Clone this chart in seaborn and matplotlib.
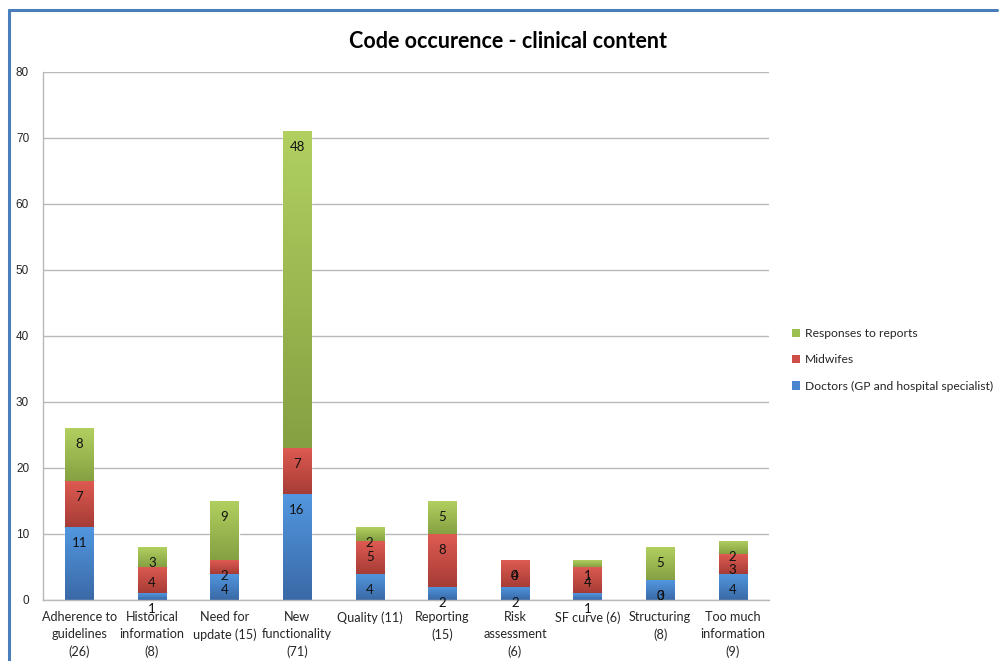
import numpy as np
import pandas as pd
import matplotlib
matplotlib.use("Agg")
import matplotlib.pyplot as plt
from matplotlib.colors import LinearSegmentedColormap
from matplotlib.lines import Line2D
from matplotlib.patches import Patch
import seaborn as sns

# Categories (with their total counts) and the three stacked series
categories = [
    "Adherence to\nguidelines\n(26)",
    "Historical\ninformation\n(8)",
    "Need for\nupdate (15)",
    "New\nfunctionality\n(71)",
    "Quality (11)",
    "Reporting\n(15)",
    "Risk\nassessment\n(6)",
    "SF curve (6)",
    "Structuring\n(8)",
    "Too much\ninformation\n(9)",
]
doctors = [11, 1, 4, 16, 4, 2, 2, 1, 3, 4]
midwifes = [7, 4, 2, 7, 5, 8, 4, 4, 0, 3]
responses = [8, 3, 9, 48, 2, 5, 0, 1, 5, 2]
series_names = ["Doctors (GP and hospital specialist)", "Midwifes", "Responses to reports"]
y_ticks = [0, 10, 20, 30, 40, 50, 60, 70, 80]
title = "Code occurence - clinical content"

# (flat colour, top of gradient, bottom of gradient) per series
palette = [
    ("#4a86cf", "#5297e0", "#3a69a6"),
    ("#cf4d47", "#de5b52", "#a63c36"),
    ("#9cc050", "#b1d060", "#85a042"),
]

sns.set_style("white")
plt.rcParams["font.family"] = ["Lato", "DejaVu Sans"]

fig = plt.figure(figsize=(9.99, 6.61), dpi=100)
ax = fig.add_axes([43 / 999, 1 - 600 / 661, 726 / 999, 528 / 661])

series_values = [doctors, midwifes, responses]
bottoms = np.zeros(len(categories))
bar_width = 0.39


def shade(axis, patch, top_c, bot_c):
    x0, y0 = patch.get_x(), patch.get_y()
    w, h = patch.get_width(), patch.get_height()
    if h <= 0:
        return
    cmap = LinearSegmentedColormap.from_list("seg", [bot_c, top_c])
    grad = np.linspace(0, 1, 256).reshape(-1, 1)
    im = axis.imshow(grad, cmap=cmap, origin="lower",
                     extent=[x0, x0 + w, y0, y0 + h], aspect="auto",
                     interpolation="bicubic", zorder=patch.get_zorder() + 0.1)
    im.set_clip_path(patch)


for vals, name, (flat, top_c, bot_c) in zip(series_values, series_names, palette):
    df = pd.DataFrame({"category": categories, "count": vals})
    sns.barplot(data=df, x="category", y="count", order=categories, color=flat,
                saturation=1, width=bar_width, ax=ax, zorder=2)
    container = ax.containers[-1]
    for patch, b, v in zip(container.patches, bottoms, vals):
        patch.set_y(b)
        shade(ax, patch, top_c, bot_c)
        # value label sits just inside the top of its segment
        ax.annotate(str(v), xy=(patch.get_x() + patch.get_width() / 2, b + v),
                    xytext=(0, -16), textcoords="offset pixels",
                    ha="center", va="center", fontsize=9.5, color="#111111",
                    zorder=5)
    bottoms = bottoms + np.array(vals)

ax.set_xlim(-0.5, len(categories) - 0.5)
ax.set_ylim(0, 80)
ax.set_yticks(y_ticks)
ax.set_xlabel("")
ax.set_ylabel("")
ax.set_axisbelow(True)
ax.yaxis.grid(True, color="#b8b8b8", lw=1)
ax.xaxis.grid(False)

for side in ("top", "right"):
    ax.spines[side].set_visible(False)
for side in ("left", "bottom"):
    ax.spines[side].set_color("#b8b8b8")
    ax.spines[side].set_linewidth(1)

ax.set_xticks(range(len(categories)))
ax.set_xticklabels(categories, fontsize=9.1, linespacing=1.5, va="top")
ax.set_xticks(np.arange(-0.5, len(categories)), minor=True)
ax.tick_params(axis="x", which="major", length=0, pad=8)
ax.tick_params(axis="x", which="minor", length=5, color="#b8b8b8", width=1, direction="out")
ax.tick_params(axis="y", length=4, color="#b8b8b8", width=1, direction="out", pad=6)
for lab in ax.get_yticklabels():
    lab.set_fontfamily(["Liberation Sans", "DejaVu Sans"])
    lab.set_fontsize(8.5)

fig.text(508 / 999, 1 - 42 / 661, title, ha="center", va="center",
         fontsize=15.5, fontweight="bold", color="#000000")

handles = [Patch(facecolor=palette[i][0], edgecolor="none") for i in (2, 1, 0)]
labels = [series_names[i] for i in (2, 1, 0)]
fig.legend(handles, labels, loc="center left",
           bbox_to_anchor=(781 / 999, 1 - 360 / 661), frameon=False,
           handlelength=0.7, handleheight=0.7, handletextpad=0.35,
           labelspacing=1.25, fontsize=8.7)

# blue outline of the chart area
fig.add_artist(Line2D([9 / 999, 9 / 999], [0, 1 - 10 / 661],
                      transform=fig.transFigure, color="#4a7ebb", lw=2.2))
fig.add_artist(Line2D([9 / 999, 997 / 999], [1 - 10 / 661, 1 - 10 / 661],
                      transform=fig.transFigure, color="#4a7ebb", lw=2.2))

fig.savefig("out.png", dpi=100)
